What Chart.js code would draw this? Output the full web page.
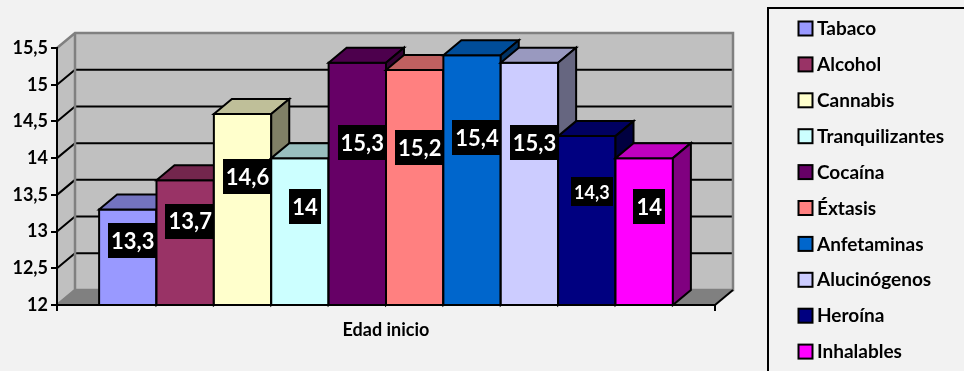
<!DOCTYPE html>
<html>
<head>
<meta charset="utf-8">
<script src="https://cdn.jsdelivr.net/npm/chart.js@4"></script>
<style>
body{margin:0;background:#f2f2f2}
#box{width:964px;height:371px;position:relative}
</style>
</head>
<body>
<div id="box"><canvas id="myChart"></canvas></div>
<script>
var categories = ['Edad inicio'];
var drugs = ['Tabaco','Alcohol','Cannabis','Tranquilizantes','Cocaína','Éxtasis','Anfetaminas','Alucinógenos','Heroína','Inhalables'];
var ages = [13.3, 13.7, 14.6, 14, 15.3, 15.2, 15.4, 15.3, 14.3, 14];
var yTicks = [12, 12.5, 13, 13.5, 14, 14.5, 15, 15.5];

var colors = ['#9999ff','#993366','#ffffcc','#ccffff','#660066','#ff8080','#0066cc','#ccccff','#000080','#ff00ff'];
var labelSizes = [22,22,22,22,22,22,22,22,18,22];

// depth of the fake 3d (walls and bars)
var dx = 18, dy = -15;
var font = 'Lato, "DejaVu Sans", sans-serif';

function fmt(v){ return String(v).replace('.', ','); }

function shade(hex, f){
    let n = parseInt(hex.slice(1), 16);
    let r = Math.round((n >> 16 & 255) * f), g = Math.round((n >> 8 & 255) * f), b = Math.round((n & 255) * f);
    return 'rgb(' + r + ',' + g + ',' + b + ')';
}

function poly(ctx, pts, fill, stroke, lw){
    ctx.beginPath();
    ctx.moveTo(pts[0][0], pts[0][1]);
    for (let i = 1; i < pts.length; i++) ctx.lineTo(pts[i][0], pts[i][1]);
    ctx.closePath();
    if (fill) { ctx.fillStyle = fill; ctx.fill(); }
    if (stroke) { ctx.strokeStyle = stroke; ctx.lineWidth = lw; ctx.lineJoin = 'miter'; ctx.stroke(); }
}

// bars start at 0, so cut them at the bottom of the axis
function barBox(chart, bar){
    const p = bar.getProps(['x','y','base','width'], true);
    const floor = chart.scales.y.getPixelForValue(yTicks[0]);
    return { l: p.x - p.width/2, r: p.x + p.width/2, t: p.y, b: Math.min(p.base, floor), x: p.x };
}

var fake3d = {
    id: 'fake3d',
    beforeDraw(chart){
        const ctx = chart.ctx, a = chart.chartArea, y = chart.scales.y;
        const L = a.left, R = a.right, T = a.top, B = a.bottom;
        ctx.save();
        poly(ctx, [[L,T],[L+dx,T+dy],[L+dx,B+dy],[L,B]], '#c0c0c0');
        poly(ctx, [[L+dx,T+dy],[R+dx,T+dy],[R+dx,B+dy],[L+dx,B+dy]], '#c0c0c0');
        poly(ctx, [[L,B],[R,B],[R+dx,B+dy],[L+dx,B+dy]], '#808080');

        ctx.strokeStyle = '#000';
        ctx.lineWidth = 2;
        yTicks.slice(1, -1).forEach(v => {
            let py = y.getPixelForValue(v);
            ctx.beginPath();
            ctx.moveTo(L, py);
            ctx.lineTo(L+dx, py+dy);
            ctx.lineTo(R+dx, py+dy);
            ctx.stroke();
        });

        ctx.strokeStyle = '#808080';
        ctx.lineWidth = 2.5;
        ctx.beginPath();
        ctx.moveTo(L, T); ctx.lineTo(L+dx, T+dy); ctx.lineTo(R+dx, T+dy); ctx.lineTo(R+dx, B+dy);
        ctx.lineTo(L+dx, B+dy); ctx.lineTo(L+dx, T+dy);
        ctx.moveTo(L+dx, B+dy); ctx.lineTo(L, B);
        ctx.stroke();

        ctx.strokeStyle = '#000';
        ctx.lineWidth = 2;
        ctx.beginPath(); ctx.moveTo(R, B); ctx.lineTo(R+dx, B+dy); ctx.stroke();
        ctx.restore();
    },
    beforeDatasetsDraw(chart){
        const ctx = chart.ctx;
        ctx.save();
        // left to right so each bar hides the side of the one before
        chart.data.datasets.forEach((ds, i) => {
            chart.getDatasetMeta(i).data.forEach(bar => {
                const {l, r, t, b} = barBox(chart, bar);
                const c = ds.backgroundColor;
                poly(ctx, [[l,t],[r,t],[r,b],[l,b]], c, '#000', 2);
                poly(ctx, [[l,t],[l+dx,t+dy],[r+dx,t+dy],[r,t]], shade(c, 0.75), '#000', 2);
                poly(ctx, [[r,t],[r+dx,t+dy],[r+dx,b+dy],[r,b]], shade(c, 0.5), '#000', 2);
            });
        });
        ctx.restore();
        return false;
    },
    afterDraw(chart){
        const ctx = chart.ctx;
        ctx.save();
        // value boxes
        chart.data.datasets.forEach((ds, i) => {
            const bb = barBox(chart, chart.getDatasetMeta(i).data[0]);
            const txt = fmt(ds.data[0]);
            const size = labelSizes[i];
            ctx.font = 'bold ' + size + 'px ' + font;
            const w = ctx.measureText(txt).width + 6, h = size * 1.6;
            const cx = bb.x + 5, cy = bb.t + (bb.b - bb.t) * 0.33;
            ctx.fillStyle = '#000';
            ctx.fillRect(Math.round(cx - w/2), Math.round(cy - h/2), Math.round(w), Math.round(h));
            ctx.fillStyle = '#fff';
            ctx.textAlign = 'center';
            ctx.textBaseline = 'middle';
            ctx.fillText(txt, cx, cy + 1);
        });

        // legend
        ctx.strokeStyle = '#000';
        ctx.lineWidth = 2;
        ctx.strokeRect(768, 8, 260, 400);
        ctx.font = 'bold 19px ' + font;
        ctx.textAlign = 'left';
        ctx.textBaseline = 'middle';
        chart.data.datasets.forEach((ds, i) => {
            const yy = 28 + i * 35.9;
            ctx.fillStyle = ds.backgroundColor;
            ctx.fillRect(798.5, yy - 6.5, 14, 14);
            ctx.lineWidth = 2;
            ctx.strokeRect(798.5, yy - 6.5, 14, 14);
            ctx.fillStyle = '#000';
            ctx.fillText(ds.label, 817, yy + 1);
        });
        ctx.restore();
    }
};

var ctx = document.getElementById('myChart').getContext('2d');
var myChart = new Chart(ctx, {
    type: 'bar',
    data: {
        labels: categories,
        datasets: drugs.map((d, i) => ({ label: d, data: [ages[i]], backgroundColor: colors[i] }))
    },
    options: {
        responsive: true,
        maintainAspectRatio: false,
        animation: false,
        layout: { padding: { left: 0, top: 48, right: 249, bottom: 0 } },
        datasets: { bar: { categoryPercentage: 0.872, barPercentage: 1 } },
        plugins: { legend: { display: false }, tooltip: { enabled: false } },
        scales: {
            x: {
                grid: { drawOnChartArea: false, color: '#000', lineWidth: 2, tickLength: 6 },
                border: { color: '#000', width: 2 },
                ticks: { color: '#000', padding: 8, font: { family: font, size: 18, weight: 'bold' } },
                afterFit(s){ s.height = 66; }
            },
            y: {
                min: yTicks[0],
                max: yTicks[yTicks.length - 1],
                grid: { drawOnChartArea: false, color: '#000', lineWidth: 2, tickLength: 6 },
                border: { color: '#000', width: 2 },
                ticks: { color: '#000', padding: 3, font: { family: font, size: 18, weight: 'bold' }, callback: v => fmt(v) },
                afterBuildTicks(s){ s.ticks = yTicks.map(v => ({ value: v })); },
                afterFit(s){ s.width = 57; }
            }
        }
    },
    plugins: [fake3d]
});
</script>
</body>
</html>
